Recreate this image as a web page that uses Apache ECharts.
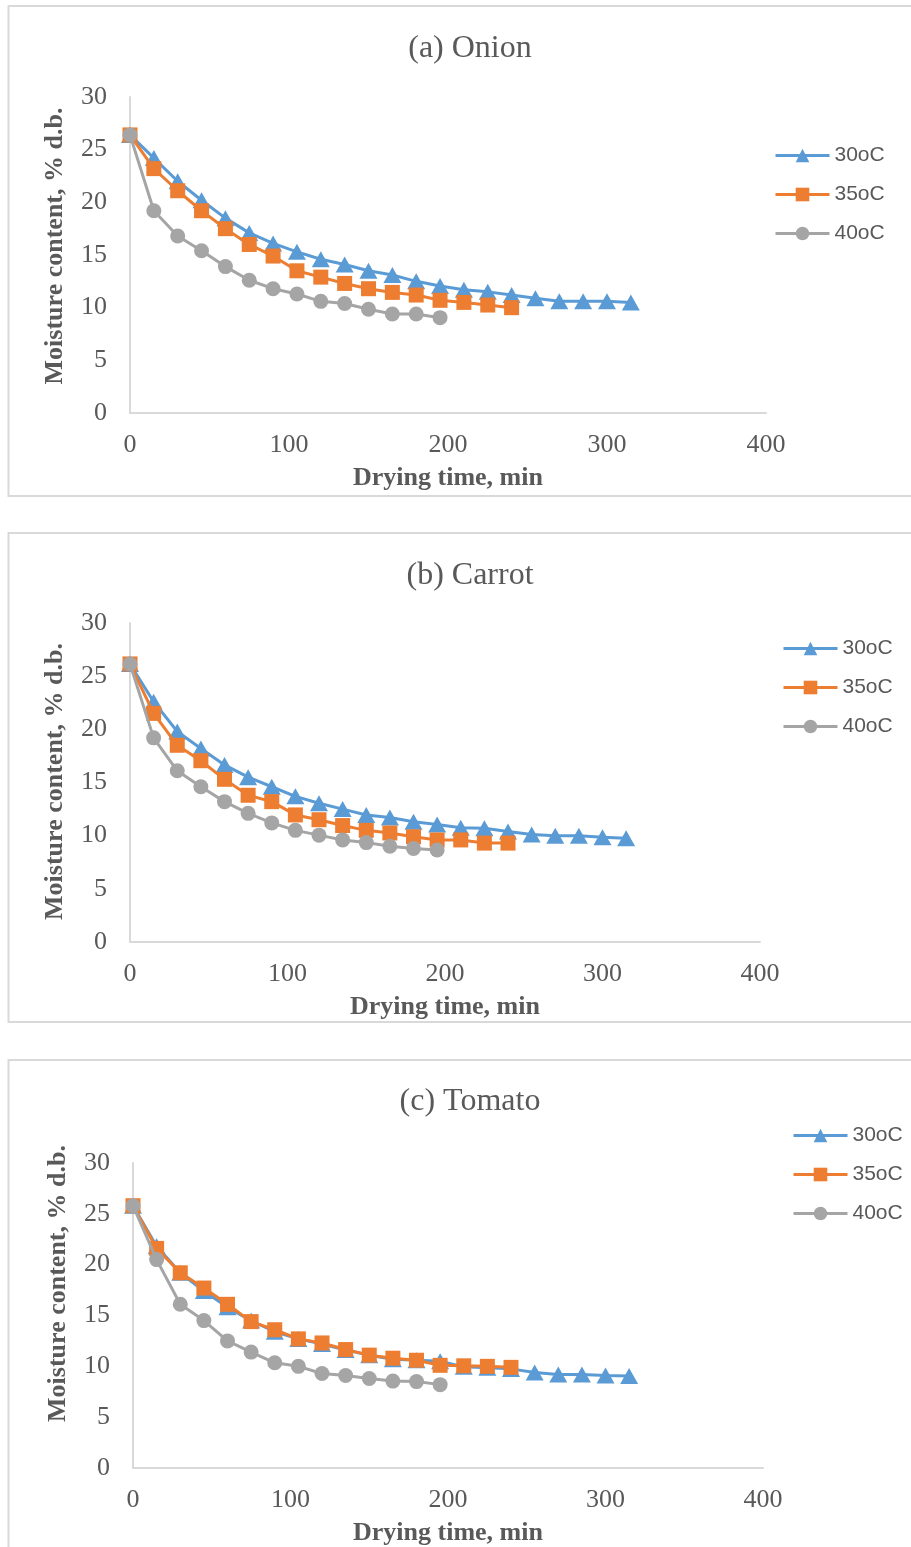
<!DOCTYPE html>
<html>
<head>
<meta charset="utf-8">
<script src="https://cdn.jsdelivr.net/npm/echarts@6/dist/echarts.min.js"></script>
<style>
  html, body { margin: 0; padding: 0; background: #fff; }
  #chart { width: 911px; height: 1547px; }
</style>
</head>
<body>
<div id="chart"></div>
<script>
// Drying time (min), sampled every 15 minutes
const time30 = [0,15,30,45,60,75,90,105,120,135,150,165,180,195,210,225,240,255,270,285,300,315];
const time35 = time30.slice(0, 17);
const time40 = time30.slice(0, 14);

const seriesNames = ['30oC', '35oC', '40oC'];
const panelTitles = ['(a) Onion', '(b) Carrot', '(c) Tomato'];
const xTicks = [0, 100, 200, 300, 400];
const yTicks = [0, 5, 10, 15, 20, 25, 30];

// Moisture content, % d.b. — onion
const onion30 = [26.4,24.2,22.0,20.2,18.5,17.1,16.1,15.3,14.6,14.1,13.5,13.1,12.5,12.05,11.7,11.5,11.2,10.9,10.6,10.6,10.6,10.5];
const onion35 = [26.4,23.2,21.1,19.2,17.5,16.0,14.9,13.5,12.9,12.3,11.8,11.45,11.2,10.7,10.5,10.25,10.0];
const onion40 = [26.4,19.2,16.8,15.4,13.9,12.6,11.8,11.3,10.6,10.4,9.85,9.4,9.4,9.05];

// Moisture content, % d.b. — carrot
const carrot30 = [26.15,22.6,19.8,18.2,16.65,15.5,14.6,13.7,13.05,12.5,11.95,11.7,11.3,11.05,10.75,10.7,10.4,10.1,10.0,10.0,9.85,9.75];
const carrot35 = [26.15,21.5,18.5,17.05,15.3,13.8,13.2,11.95,11.5,10.95,10.5,10.25,9.9,9.6,9.6,9.3,9.3];
const carrot40 = [26.15,19.2,16.1,14.6,13.2,12.1,11.2,10.5,10.05,9.6,9.35,9.0,8.8,8.65];

// Moisture content, % d.b. — tomato
const tomato30 = [25.8,21.8,19.2,17.4,15.8,14.5,13.4,12.7,12.2,11.6,11.1,10.7,10.6,10.5,9.95,9.85,9.75,9.4,9.2,9.2,9.1,9.05];
const tomato35 = [25.8,21.6,19.2,17.7,16.1,14.4,13.6,12.7,12.3,11.65,11.1,10.8,10.6,10.1,10.05,10.0,9.9];
const tomato40 = [25.8,20.5,16.1,14.5,12.5,11.4,10.35,10.0,9.3,9.1,8.8,8.55,8.5,8.2];

const panelData = [
  [onion30, onion35, onion40],
  [carrot30, carrot35, carrot40],
  [tomato30, tomato35, tomato40]
];
const times = [time30, time35, time40];

// Layout of each panel (pixels); yNameShift nudges the vertical axis title upward
const layout = [
  { box: [8.5, 6, 920, 490],    grid: { left: 130, top: 97,   width: 636, height: 316 }, title: 28,   legend: [769, 140],  yNameShift: 18 },
  { box: [8.5, 533, 920, 489],  grid: { left: 130, top: 623,  width: 630, height: 319 }, title: 555,  legend: [777, 633],  yNameShift: 2 },
  { box: [8.5, 1060, 920, 520], grid: { left: 133, top: 1163, width: 630, height: 311 }, title: 1081, legend: [787, 1120], yNameShift: 64 }
];

const colors = ['#5B9BD5', '#ED7D31', '#A5A5A5'];
const symbols = ['triangle', 'rect', 'circle'];
const symbolSizes = [[18, 16], 15, 15];
const textGray = '#595959';
const serif = '"Liberation Serif", "Times New Roman", serif';

const option = {
  animation: false,
  backgroundColor: '#fff',
  title: [], legend: [], grid: [], xAxis: [], yAxis: [], series: [],
  graphic: []
};

layout.forEach((p, i) => {
  option.graphic.push({
    type: 'rect', silent: true, z: -1,
    shape: { x: p.box[0], y: p.box[1], width: p.box[2], height: p.box[3] },
    style: { fill: 'none', stroke: '#D9D9D9', lineWidth: 2 }
  });
  option.title.push({
    text: panelTitles[i], left: 465, top: p.title, textAlign: 'center',
    textStyle: { fontFamily: serif, fontSize: 32, fontWeight: 'normal', color: textGray }
  });
  option.legend.push({
    data: seriesNames, orient: 'vertical', left: p.legend[0], top: p.legend[1],
    itemWidth: 54, itemHeight: 17, itemGap: 18,
    lineStyle: { width: 3 },
    textStyle: { fontFamily: '"Liberation Sans", Arial, sans-serif', fontSize: 21, color: textGray }
  });
  option.grid.push(p.grid);
  option.xAxis.push({
    type: 'value', gridIndex: i, min: xTicks[0], max: xTicks[xTicks.length - 1], interval: 100,
    name: 'Drying time, min', nameLocation: 'middle', nameGap: 52,
    nameTextStyle: { fontFamily: serif, fontSize: 26, fontWeight: 'bold', color: textGray },
    axisLine: { lineStyle: { color: '#D9D9D9', width: 2 } },
    axisTick: { show: false }, splitLine: { show: false },
    axisLabel: { margin: 19, fontFamily: serif, fontSize: 26, color: textGray }
  });
  option.yAxis.push({
    type: 'value', gridIndex: i, min: yTicks[0], max: yTicks[yTicks.length - 1], interval: 5,
    name: 'Moisture content, % d.b.', nameLocation: 'middle', nameGap: 62,
    nameTextStyle: {
      fontFamily: serif, fontSize: 26, fontWeight: 'bold', color: textGray,
      padding: [0, 0, 0, p.yNameShift]
    },
    axisLine: { show: true, lineStyle: { color: '#D9D9D9', width: 2 } },
    axisTick: { show: false }, splitLine: { show: false },
    axisLabel: { margin: 23, fontFamily: serif, fontSize: 26, color: textGray }
  });
  panelData[i].forEach((vals, k) => {
    option.series.push({
      name: seriesNames[k], type: 'line', xAxisIndex: i, yAxisIndex: i,
      data: vals.map((v, j) => [times[k][j], v]),
      symbol: symbols[k], symbolSize: symbolSizes[k], showAllSymbol: true,
      lineStyle: { color: colors[k], width: 3 },
      itemStyle: { color: colors[k] },
      z: 2 + k
    });
  });
});

const chart = echarts.init(document.getElementById('chart'), null, { renderer: 'canvas' });
chart.setOption(option);
</script>
</body>
</html>
